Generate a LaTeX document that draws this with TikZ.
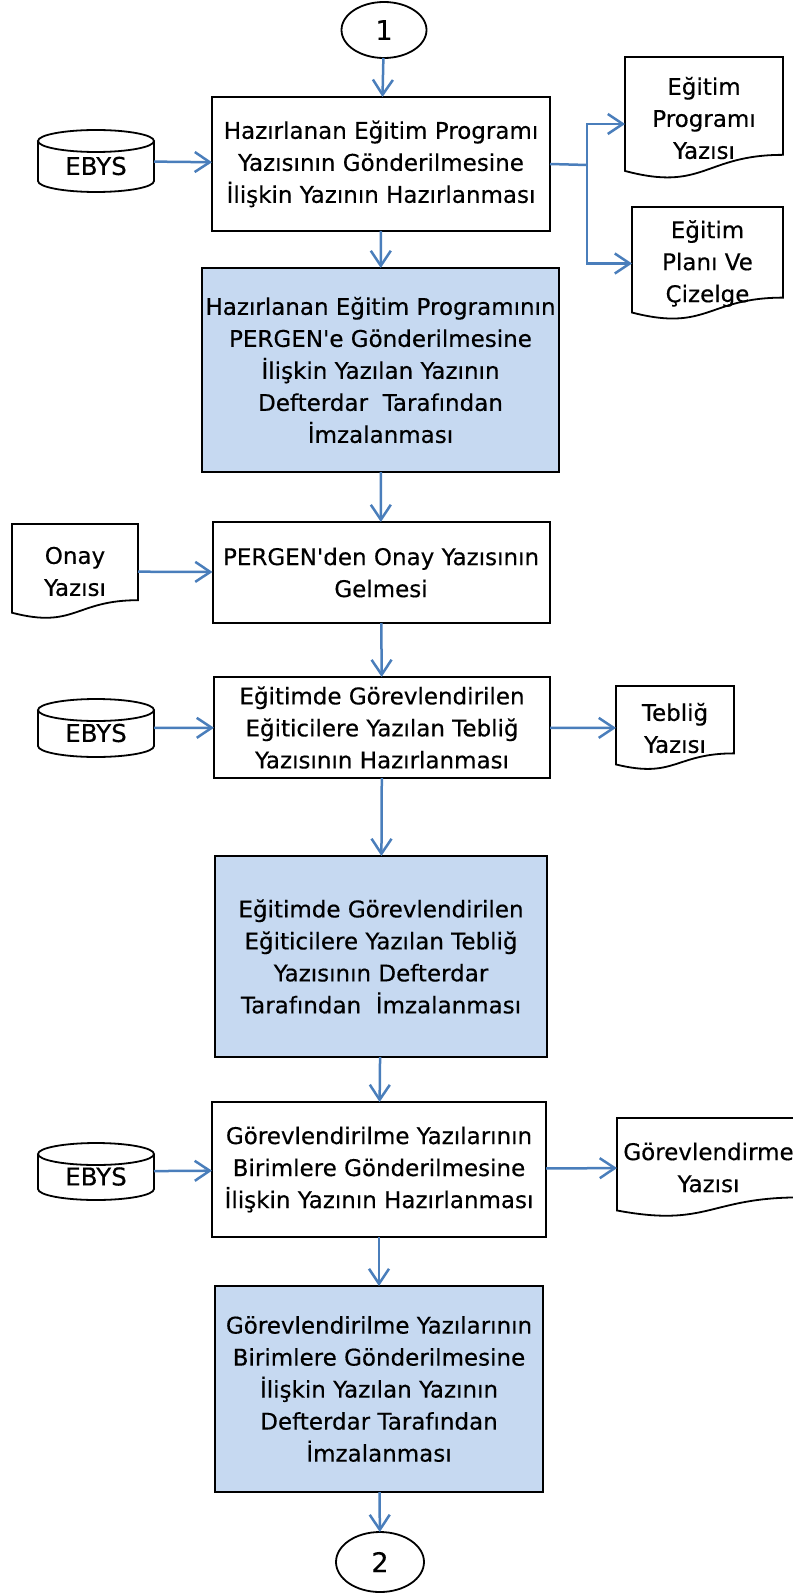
\documentclass[tikz,border=0pt]{standalone}
\usepackage{fontspec}
\setmainfont{DejaVu Sans}[FakeBold=0.4]
\usetikzlibrary{shapes.geometric,arrows.meta,calc}
\definecolor{flowblue}{RGB}{74,126,187}
\definecolor{boxblue}{RGB}{198,217,241}

\begin{document}
\begin{tikzpicture}[x=1pt,y=1pt,
  every node/.style={font=\fontsize{23}{32}\selectfont, align=center, inner sep=0pt, outer sep=0pt},
  proc/.style={draw, line width=2pt, rectangle},
  sign/.style={proc, fill=boxblue},
  conn/.style={draw, ellipse, line width=1.8pt, font=\fontsize{27}{32}\selectfont},
  doc/.style={rectangle},
  disk/.style={rectangle, font=\fontsize{24.5}{32}\selectfont},
  outline/.style={line width=1.8pt},
  flow/.style={flowblue, line width=2.5pt, -{Straight Barb[length=15pt,width=20pt]}}]
  \useasboundingbox (0,0) rectangle (792,-1594);

  % Connectors top and bottom
  \node[conn, minimum width=85pt, minimum height=56pt] (c1) at (384,-30) {1};
  \node[conn, minimum width=88pt, minimum height=60pt] (c2) at (380,-1562) {2};

  % Main column
  \node[proc, minimum width=338pt, minimum height=134pt] (prep1) at (381,-164)
    {Hazırlanan Eğitim Programı\\Yazısının Gönderilmesine\\İlişkin Yazının Hazırlanması};
  \node[sign, minimum width=357pt, minimum height=204pt] (sign1) at (380.5,-370)
    {Hazırlanan Eğitim Programının\\PERGEN\textquotesingle e Gönderilmesine\\İlişkin Yazılan Yazının\\Defterdar~ Tarafından\\İmzalanması};
  \node[proc, minimum width=337pt, minimum height=101pt] (approve) at (381,-572.5)
    {PERGEN\textquotesingle den Onay Yazısının\\Gelmesi};
  \node[proc, minimum width=336pt, minimum height=101pt] (prep2) at (382,-727.5)
    {Eğitimde Görevlendirilen\\Eğiticilere Yazılan Tebliğ\\Yazısının Hazırlanması};
  \node[sign, minimum width=332pt, minimum height=201pt] (sign2) at (381,-956.5)
    {Eğitimde Görevlendirilen\\Eğiticilere Yazılan Tebliğ\\Yazısının Defterdar\\Tarafından~ İmzalanması};
  \node[proc, minimum width=334pt, minimum height=135pt] (prep3) at (379,-1169.5)
    {Görevlendirilme Yazılarının\\Birimlere Gönderilmesine\\İlişkin Yazının Hazırlanması};
  \node[sign, minimum width=328pt, minimum height=206pt] (sign3) at (379,-1389)
    {Görevlendirilme Yazılarının\\Birimlere Gönderilmesine\\İlişkin Yazılan Yazının\\Defterdar Tarafından\\İmzalanması};

  % EBYS sources
  \node[disk, minimum width=116pt, minimum height=62pt] (ebys1) at (96,-161) {\raisebox{-5pt}[\height][\depth]{EBYS}};
  \node[disk, minimum width=116pt, minimum height=58pt] (ebys2) at (96,-728) {\raisebox{-5pt}[\height][\depth]{EBYS}};
  \node[disk, minimum width=116pt, minimum height=57pt] (ebys3) at (96,-1171.5) {\raisebox{-5pt}[\height][\depth]{EBYS}};
  \foreach \e in {ebys1,ebys2,ebys3} {
    \draw[outline] ($(\e.north west)+(0,-11pt)$) -- ($(\e.south west)+(0,11pt)$)
      arc[start angle=180, end angle=360, x radius=58pt, y radius=11pt]
      -- ($(\e.north east)+(0,-11pt)$);
    \draw[outline] ($(\e.north)+(0,-11pt)$) ellipse[x radius=58pt, y radius=11pt];
  }

  % Documents
  \node[doc, minimum width=158pt, minimum height=122pt] (progdoc) at (704,-118) {Eğitim\\Programı\\Yazısı};
  \node[doc, minimum width=151pt, minimum height=113pt] (plandoc) at (707.5,-263.5) {Eğitim\\Planı Ve\\Çizelge};
  \node[doc, minimum width=126pt, minimum height=95pt] (onaydoc) at (75,-571.5) {Onay\\Yazısı};
  \node[doc, minimum width=118pt, minimum height=84pt] (tebligdoc) at (675,-728) {Tebliğ\\Yazısı};
  \node[doc, minimum width=183pt, minimum height=99pt] (gorevdoc) at (708.5,-1167.5) {Görevlendirme\\Yazısı};
  \foreach \d in {progdoc,plandoc,onaydoc,tebligdoc,gorevdoc}
    \draw[outline] (\d.north west) -- (\d.north east) -- ($(\d.north east)!0.802!(\d.south east)$)
      .. controls ($(\d.north)!0.802!(\d.south)$) and ($(\d.north)!1.107!(\d.south)$)
      .. ($(\d.north west)!0.934!(\d.south west)$) -- cycle;

  % Arrows
  \coordinate (split) at (587,-165);
  \draw[flow] (c1) -- (prep1);
  \draw[flow] (ebys1) -- (prep1);
  \draw[flowblue, line width=2.5pt] (prep1.east) -- (split);
  \draw[flow] (split) |- ([yshift=-6pt]progdoc.west);
  \draw[flow] (split) |- (plandoc.west);
  \draw[flow] (prep1) -- (sign1);
  \draw[flow] (sign1) -- (approve);
  \draw[flow] (onaydoc) -- (approve);
  \draw[flow] (approve) -- (prep2);
  \draw[flow] (ebys2) -- (prep2);
  \draw[flow] (prep2) -- (tebligdoc);
  \draw[flow] (prep2) -- (sign2);
  \draw[flow] (sign2) -- (prep3);
  \draw[flow] (ebys3) -- (prep3);
  \draw[flow] (prep3) -- (gorevdoc);
  \draw[flow] (prep3) -- (sign3);
  \draw[flow] (sign3) -- (c2);
\end{tikzpicture}
\end{document}
